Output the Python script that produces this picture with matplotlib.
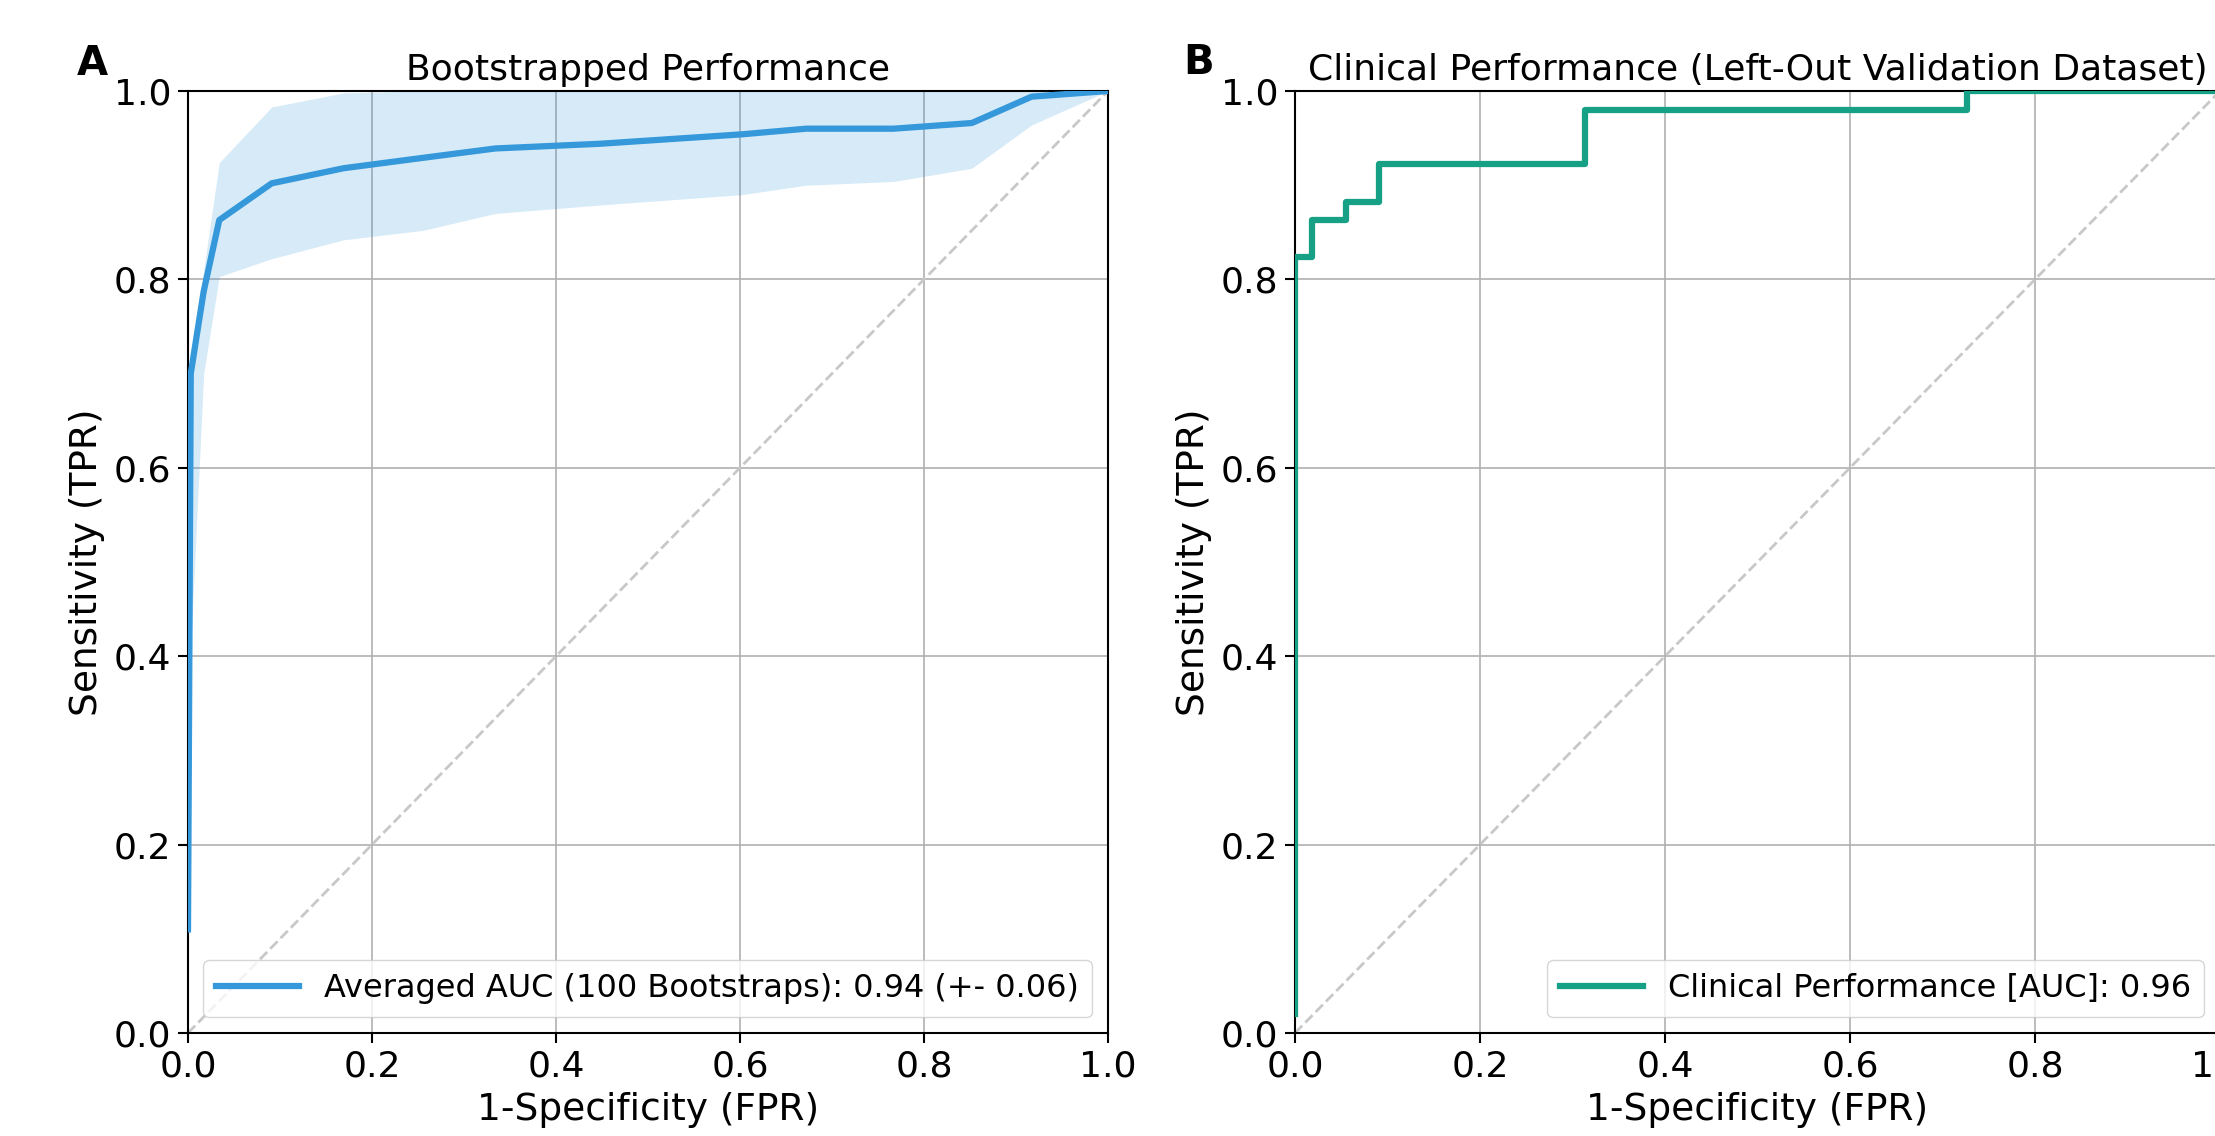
import matplotlib
matplotlib.use("Agg")
import matplotlib.pyplot as plt

# panel A: averaged bootstrap ROC curve with its spread
boot_fpr = [0.0, 0.003, 0.017, 0.034, 0.091, 0.169, 0.255, 0.334, 0.448, 0.602, 0.672, 0.767, 0.852, 0.917, 1.0]
boot_tpr = [0.11, 0.70, 0.787, 0.863, 0.902, 0.918, 0.929, 0.939, 0.944, 0.954, 0.960, 0.960, 0.966, 0.994, 1.0]
boot_lo = [0.11, 0.41, 0.70, 0.803, 0.822, 0.842, 0.852, 0.870, 0.879, 0.890, 0.900, 0.904, 0.918, 0.964, 1.0]
boot_hi = [0.62, 0.71, 0.81, 0.924, 0.983, 0.998, 1.0, 1.0, 1.0, 1.0, 1.0, 1.0, 1.0, 1.0, 1.0]
boot_label = "Averaged AUC (100 Bootstraps): 0.94 (+- 0.06)"

# panel B: ROC on the left-out validation set (step curve)
val_fpr = [0.0, 0.0, 0.018, 0.018, 0.055, 0.055, 0.091, 0.091, 0.314, 0.314, 0.727, 0.727, 1.0]
val_tpr = [0.02, 0.824, 0.824, 0.863, 0.863, 0.882, 0.882, 0.922, 0.922, 0.980, 0.980, 1.0, 1.0]
val_label = "Clinical Performance [AUC]: 0.96"

ticks = [0.0, 0.2, 0.4, 0.6, 0.8, 1.0]
tick_labels = ["0.0", "0.2", "0.4", "0.6", "0.8", "1.0"]

blue = "#3498db"
teal = "#16a085"

plt.rcParams["font.family"] = ["DejaVu Sans"]

fig = plt.figure(figsize=(22.15, 11.36), dpi=100)

W, H = 2215.0, 1136.0
bottom = (H - 1033) / H
height = 942 / H
ax1 = fig.add_axes([188 / W, bottom, 920 / W, height])
ax2 = fig.add_axes([1295 / W, bottom, 925 / W, height])  # runs a little past the right edge


def style_axes(ax, title):
    ax.set_xlim(0, 1)
    ax.set_ylim(0, 1)
    ax.set_xticks(ticks)
    ax.set_xticklabels(tick_labels)
    ax.set_yticks(ticks)
    ax.set_yticklabels(tick_labels)
    ax.tick_params(labelsize=26, length=7, width=1.5, pad=5)
    ax.grid(True, color="#b0b0b0", linewidth=1.2)
    ax.set_axisbelow(True)
    for sp in ax.spines.values():
        sp.set_linewidth(1.5)
    ax.set_xlabel("1-Specificity (FPR)", fontsize=27, labelpad=6)
    ax.set_ylabel("Sensitivity (TPR)", fontsize=27, labelpad=6)
    ax.set_title(title, fontsize=26, pad=8)
    # chance line
    ax.plot([0, 1], [0, 1], linestyle="--", color="#c8c8c8", linewidth=2.0, zorder=1)


style_axes(ax1, "Bootstrapped Performance")
ax1.fill_between(boot_fpr, boot_lo, boot_hi, color=blue, alpha=0.2, linewidth=0, zorder=2)
ax1.plot(boot_fpr, boot_tpr, color=blue, linewidth=4.5, label=boot_label, zorder=3)
ax1.legend(loc="lower right", fontsize=23, handlelength=2.6)

style_axes(ax2, "Clinical Performance (Left-Out Validation Dataset)")
ax2.plot(val_fpr, val_tpr, color=teal, linewidth=4.5, label=val_label, zorder=3)
ax2.legend(loc="lower right", fontsize=23, handlelength=2.6)

# panel letters
fig.text(92 / W, 1 - 75 / H, "A", fontsize=29, fontweight="bold", ha="center", va="baseline")
fig.text(1199 / W, 1 - 74 / H, "B", fontsize=29, fontweight="bold", ha="center", va="baseline")

fig.savefig("out.png", dpi=100)
